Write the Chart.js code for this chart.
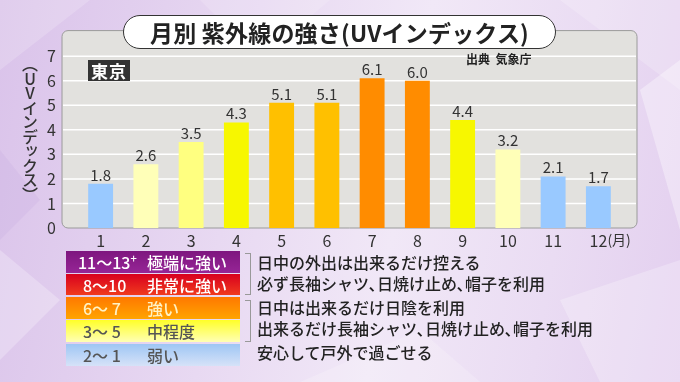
<!DOCTYPE html>
<html><head><meta charset="utf-8">
<script src="https://cdn.jsdelivr.net/npm/chart.js@4.4.0/dist/chart.umd.min.js"></script>
<style>
html,body{margin:0;padding:0;}
body{width:680px;height:382px;overflow:hidden;position:relative;font-family:"Noto Sans CJK JP","Noto Sans",sans-serif;
background:linear-gradient(100deg,#dac3ea 0%,#e8d9f2 35%,#f1e8f7 58%,#eadcf3 80%,#e3cfef 100%);}
#bgsvg{position:absolute;left:0;top:0;}
#c{position:absolute;left:0;top:0;}
.abs{position:absolute;white-space:nowrap;line-height:1;}
#title{left:123px;top:15px;width:431px;height:32px;border:1.5px solid #333;border-radius:18px;background:#fff;
display:flex;align-items:center;justify-content:center;font-size:23px;font-weight:700;color:#222;letter-spacing:0.2px;}
#tokyo{left:88px;top:60px;width:42px;height:21px;background:#333;color:#fff;font-size:17px;font-weight:700;
display:flex;align-items:center;justify-content:center;letter-spacing:1px;}
#src{left:466px;top:53px;font-size:12px;font-weight:700;color:#222;}
#ytitle{left:22px;top:56px;writing-mode:vertical-rl;text-orientation:upright;font-size:16px;color:#333;font-weight:500;letter-spacing:-1.5px;}
.row{position:absolute;left:66px;width:174px;height:22px;font-size:16px;font-weight:500;}
.row span{position:absolute;top:50%;transform:translateY(-52%);}
.note{position:absolute;left:257px;font-size:16px;font-weight:500;color:#222;white-space:nowrap;line-height:1;}
.br{position:absolute;left:245px;width:5px;border:1px solid #999;border-left:none;}
</style></head>
<body>
<svg id="bgsvg" width="680" height="382">
<polygon points="0,0 90,0 0,70" fill="#fff" opacity="0.18"/>
<polygon points="200,0 330,0 260,60" fill="#fff" opacity="0.15"/>
<polygon points="560,0 680,0 680,90" fill="#fff" opacity="0.2"/>
<polygon points="640,90 680,60 680,230" fill="#fff" opacity="0.35"/>
<polygon points="0,250 60,300 0,360" fill="#fff" opacity="0.25"/>
<polygon points="560,300 680,260 680,382 600,382" fill="#fff" opacity="0.25"/>
<polygon points="300,382 420,330 480,382" fill="#fff" opacity="0.18"/>
<polygon points="0,150 40,200 0,240" fill="#c9aee0" opacity="0.3"/>
</svg>
<canvas id="c" width="680" height="382"></canvas>
<div id="title" class="abs">月別 紫外線の強さ(UVインデックス)</div>
<div id="tokyo" class="abs">東京</div>
<div id="src" class="abs">出典&nbsp;&nbsp;気象庁</div>
<div id="ytitle" class="abs">（UVインデックス）</div>

<div class="row" style="top:251px;background:linear-gradient(#7e167f,#962596);color:#fff;"><span style="left:12px">11～13<sup style="font-size:11px;vertical-align:6px">+</sup></span><span style="left:81px">極端に強い</span></div>
<div class="row" style="top:274px;height:21px;background:linear-gradient(#d8001e,#f03a1e);color:#fff;"><span style="left:17px">8～10</span><span style="left:81px">非常に強い</span></div>
<div class="row" style="top:297px;background:linear-gradient(#ff7800,#ffa400);color:#fff2c4;"><span style="left:17px">6～ 7</span><span style="left:81px">強い</span></div>
<div class="row" style="top:320px;background:linear-gradient(#ffff28,#ffffb4);color:#555;"><span style="left:17px">3～ 5</span><span style="left:81px">中程度</span></div>
<div class="row" style="top:344px;background:linear-gradient(#9ec6f4,#d6e2f8);color:#555;"><span style="left:17px">2～ 1</span><span style="left:81px">弱い</span></div>

<div class="br" style="top:253px;height:40px;"></div>
<div class="br" style="top:300px;height:40px;"></div>
<div class="note" style="top:254px;">日中の外出は出来るだけ控える</div>
<div class="note" style="top:275px;">必ず長袖シャツ､日焼け止め､帽子を利用</div>
<div class="note" style="top:299px;">日中は出来るだけ日陰を利用</div>
<div class="note" style="top:320px;">出来るだけ長袖シャツ､日焼け止め､帽子を利用</div>
<div class="note" style="top:344px;">安心して戸外で過ごせる</div>

<script>
const months = ['1','2','3','4','5','6','7','8','9','10','11','12'];
const uvValues = [1.8,2.6,3.5,4.3,5.1,5.1,6.1,6.0,4.4,3.2,2.1,1.7];
const barColors = ['#99c9ff','#ffffb8','#ffff80','#f7f700','#ffc000','#ffc000','#ff8c00','#ff8c00','#f7f700','#ffffb8','#99c9ff','#99c9ff'];
const yTicks = [0,1,2,3,4,5,6,7];
const monthUnit = '(月)';
const FONT = '"Noto Sans CJK JP","Noto Sans",sans-serif';

const panelPlugin = {
  id:'panel',
  beforeDatasetsDraw(chart){
    const {ctx, chartArea:{left,right,top,bottom}} = chart;
    const ys = chart.scales.y;
    const x0 = left-16, x1 = right+16, y0 = top-1, y1 = bottom;
    ctx.save();
    ctx.beginPath();
    ctx.roundRect(x0,y0,x1-x0,y1-y0,6);
    ctx.fillStyle='#e2e1de';
    ctx.fill();
    ctx.lineWidth=1;
    ctx.strokeStyle='#9a9a9a';
    ctx.stroke();
    ctx.strokeStyle='#ffffff';
    ctx.lineWidth=1.5;
    yTicks.forEach(v=>{
      if(v===0) return;
      const y = ys.getPixelForValue(v);
      ctx.beginPath();
      ctx.moveTo(x0+1,y);ctx.lineTo(x1-1,y);ctx.stroke();
    });
    ctx.restore();
  },
  afterDatasetsDraw(chart){
    const {ctx} = chart;
    const meta = chart.getDatasetMeta(0);
    ctx.save();
    ctx.font = '15px '+FONT;
    ctx.fillStyle='#333';
    ctx.textAlign='center';
    ctx.textBaseline='alphabetic';
    meta.data.forEach((bar,i)=>{
      ctx.fillText(uvValues[i].toFixed(1), bar.x, bar.y-3);
    });
    const xs = chart.scales.x;
    const xl = xs.getPixelForTick(months.length-1);
    ctx.font = '14px '+FONT;
    ctx.textAlign='left';
    ctx.textBaseline='middle';
    ctx.fillText(monthUnit, xl+9, 240);
    ctx.restore();
  }
};

new Chart(document.getElementById('c'),{
  type:'bar',
  data:{labels:months,datasets:[{data:uvValues,backgroundColor:barColors,borderWidth:0,barPercentage:0.55,categoryPercentage:1}]},
  options:{
    responsive:false,animation:false,
    layout:{padding:{left:0,right:59,top:24,bottom:124}},
    plugins:{legend:{display:false},tooltip:{enabled:false}},
    scales:{
      x:{grid:{display:false,drawTicks:false},border:{display:false},
         ticks:{color:'#333',font:{family:FONT,size:16},padding:3,maxRotation:0},
         afterFit(s){s.height=30;}},
      y:{min:0,max:8,grid:{display:false,drawTicks:false},border:{display:false},
         ticks:{stepSize:1,color:'#333',font:{family:FONT,size:16},padding:22,
           callback:v=>yTicks.includes(v)?String(v):null},
         afterFit(s){s.width=78;}}
    }
  },
  plugins:[panelPlugin]
});
</script>
</body></html>
